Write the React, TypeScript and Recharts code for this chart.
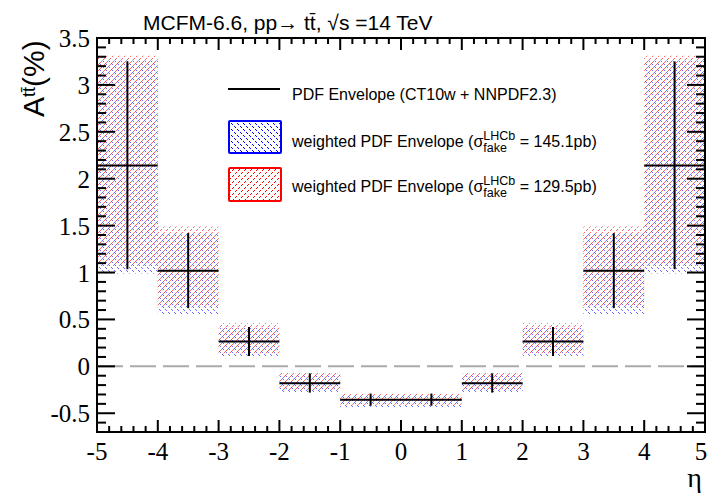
import React from 'react';
import { ComposedChart, XAxis, YAxis, Scatter, ErrorBar, ReferenceArea, ReferenceLine } from 'recharts';

// eta bins
const binLow = [-5, -4, -3, -2, -1, 0, 1, 2, 3, 4];
const binHigh = [-4, -3, -2, -1, 0, 1, 2, 3, 4, 5];
const binCenter = [-4.5, -3.5, -2.5, -1.5, -0.5, 0.5, 1.5, 2.5, 3.5, 4.5];

// PDF envelope (CT10w + NNPDF2.3): central value and envelope
const central = [2.14, 1.02, 0.265, -0.18, -0.355, -0.355, -0.18, 0.265, 1.02, 2.14];
const envelopeLow = [1.035, 0.62, 0.11, -0.28, -0.42, -0.42, -0.28, 0.11, 0.62, 1.035];
const envelopeHigh = [3.25, 1.42, 0.42, -0.075, -0.29, -0.29, -0.075, 0.42, 1.42, 3.25];

// weighted envelope, sigma_fake = 145.1 pb (blue)
const blueLow = [0.99, 0.55, 0.1, -0.285, -0.435, -0.435, -0.285, 0.1, 0.55, 0.99];
const blueHigh = [3.26, 1.42, 0.41, -0.08, -0.31, -0.31, -0.08, 0.41, 1.42, 3.26];

// weighted envelope, sigma_fake = 129.5 pb (red)
const redLow = [1.07, 0.63, 0.14, -0.26, -0.41, -0.41, -0.26, 0.14, 0.63, 1.07];
const redHigh = [3.31, 1.49, 0.46, -0.06, -0.29, -0.29, -0.06, 0.46, 1.49, 3.31];

const xMajorTicks = [-5, -4, -3, -2, -1, 0, 1, 2, 3, 4, 5];
const yMajorTicks = [-0.5, 0, 0.5, 1, 1.5, 2, 2.5, 3, 3.5];

const xTicks = Array.from({ length: 51 }, (_, i) => Math.round((-5 + i * 0.2) * 10) / 10);
const yTicks = Array.from({ length: 43 }, (_, i) => Math.round((-0.7 + i * 0.1) * 10) / 10);

const points = binCenter.map((x, i) => ({
  x,
  y: central[i],
  ex: (binHigh[i] - binLow[i]) / 2,
  ey: [central[i] - envelopeLow[i], envelopeHigh[i] - central[i]],
}));

const W = 709;
const H = 495;
const PL = 97;
const PR = 705;
const PT = 38;
const PB = 432;

const SERIF = 'Liberation Serif, Times New Roman, serif';
const SANS = 'Liberation Sans, Arial, Helvetica, sans-serif';

const isMajor = (v: number, list: number[]) => list.some((m) => Math.abs(m - v) < 1e-6);

const XTick = (props: any) => {
  const { x, payload } = props;
  const v = payload.value;
  const major = isMajor(v, xMajorTicks);
  const len = major ? 12 : 6;
  // keep the last label inside the picture
  const lx = Math.min(x, W - 8);
  return (
    <g>
      <line x1={x} x2={x} y1={PB} y2={PB - len} stroke="#000" strokeWidth={2} />
      <line x1={x} x2={x} y1={PT} y2={PT + len} stroke="#000" strokeWidth={2} />
      {major && (
        <text x={lx} y={460} textAnchor="middle" fontFamily={SERIF} fontSize={25} fill="#000">
          {String(Math.round(v))}
        </text>
      )}
    </g>
  );
};

const YTick = (props: any) => {
  const { y, payload } = props;
  const v = payload.value;
  const major = isMajor(v, yMajorTicks);
  const len = major ? 18 : 9;
  return (
    <g>
      <line x1={PL} x2={PL + len} y1={y} y2={y} stroke="#000" strokeWidth={2} />
      <line x1={PR - len} x2={PR} y1={y} y2={y} stroke="#000" strokeWidth={2} />
      {major && (
        <text x={90} y={y + 9} textAnchor="end" fontFamily={SERIF} fontSize={25} fill="#000">
          {String(Math.round(v * 10) / 10)}
        </text>
      )}
    </g>
  );
};

export default function App() {
  return (
    <div style={{ position: 'absolute', left: 0, top: 0, width: W, height: H, background: '#fff' }}>
      <svg width={0} height={0} style={{ position: 'absolute' }}>
        <defs>
          <pattern id="hatchBlue" x={0} y={0} width={6} height={6} patternUnits="userSpaceOnUse">
            <rect x={0} y={0} width={1} height={1} fill="#0000ff" />
            <rect x={1} y={1} width={1} height={1} fill="#0000ff" />
            <rect x={3} y={3} width={1} height={1} fill="#0000ff" />
            <rect x={4} y={4} width={1} height={1} fill="#0000ff" />
          </pattern>
          <pattern id="hatchRed" x={0} y={0} width={6} height={6} patternUnits="userSpaceOnUse">
            <rect x={1} y={5} width={1} height={1} fill="#ff0000" />
            <rect x={2} y={4} width={1} height={1} fill="#ff0000" />
            <rect x={4} y={2} width={1} height={1} fill="#ff0000" />
            <rect x={5} y={1} width={1} height={1} fill="#ff0000" />
          </pattern>
        </defs>
      </svg>
      <ComposedChart width={W} height={H} margin={{ top: PT, right: W - PR, bottom: 0, left: 0 }}>
        <XAxis
          type="number"
          dataKey="x"
          domain={[-5, 5]}
          ticks={xTicks}
          interval={0}
          height={H - PB}
          tickSize={0}
          tickMargin={0}
          tickLine={false}
          axisLine={false}
          allowDataOverflow
          tick={(p: any) => <XTick {...p} />}
        />
        <YAxis
          type="number"
          dataKey="y"
          domain={[-0.7, 3.5]}
          ticks={yTicks}
          interval={0}
          width={PL}
          tickSize={0}
          tickMargin={0}
          tickLine={false}
          axisLine={false}
          allowDataOverflow
          tick={(p: any) => <YTick {...p} />}
        />
        {binCenter.map((_, i) => (
          <ReferenceArea
            key={'b' + i}
            x1={binLow[i]}
            x2={binHigh[i]}
            y1={blueLow[i]}
            y2={blueHigh[i]}
            fill="url(#hatchBlue)"
            fillOpacity={0.6}
            stroke="none"
            ifOverflow="visible"
          />
        ))}
        {binCenter.map((_, i) => (
          <ReferenceArea
            key={'r' + i}
            x1={binLow[i]}
            x2={binHigh[i]}
            y1={redLow[i]}
            y2={redHigh[i]}
            fill="url(#hatchRed)"
            fillOpacity={0.6}
            stroke="none"
            ifOverflow="visible"
          />
        ))}
        <ReferenceLine y={0} stroke="#aaaaaa" strokeWidth={2} strokeDasharray="26 7" />
        <Scatter data={points} dataKey="y" isAnimationActive={false} shape={() => <g />}>
          <ErrorBar dataKey="ey" direction="y" width={0} stroke="#000" strokeWidth={2} isAnimationActive={false} />
          <ErrorBar dataKey="ex" direction="x" width={0} stroke="#000" strokeWidth={2} isAnimationActive={false} />
        </Scatter>
        <ReferenceArea x1={-5} x2={5} y1={-0.7} y2={3.5} fill="none" stroke="#000" strokeWidth={2} ifOverflow="visible" />
      </ComposedChart>
      <svg width={W} height={H} style={{ position: 'absolute', left: 0, top: 0, pointerEvents: 'none' }}>
        <text x={143} y={30} fontFamily={SANS} fontSize={21} fill="#000">
          MCFM-6.6, pp→ tt̄, √s =14 TeV
        </text>
        <text transform="translate(44,117) rotate(-90)" fontFamily={SANS} fontSize={30} fill="#000">
          A<tspan fontSize={18} dy={-9}>tt̄</tspan>
          <tspan dy={9}>(%)</tspan>
        </text>
        <text x={702} y={487} textAnchor="end" fontFamily={SERIF} fontSize={28} fill="#000">
          η
        </text>
        {/* legend */}
        <line x1={228} x2={280} y1={89} y2={89} stroke="#000" strokeWidth={2} />
        <text x={292} y={100} fontFamily={SANS} fontSize={16} fill="#000">
          PDF Envelope (CT10w + NNPDF2.3)
        </text>
        <rect x={229} y={121} width={52} height={32} fill="url(#hatchBlue)" stroke="#0000ff" strokeWidth={2} rx={1} />
        <text x={292} y={147} fontFamily={SANS} fontSize={16} fill="#000">
          weighted PDF Envelope (σ<tspan fontSize={12.5} dy={5}>fake</tspan>
          <tspan fontSize={12.5} dx={-23.6} dy={-12}>LHCb</tspan>
          <tspan dy={7}> = 145.1pb)</tspan>
        </text>
        <rect x={229} y={168} width={52} height={33} fill="url(#hatchRed)" stroke="#ff0000" strokeWidth={2} rx={1} />
        <text x={292} y={192} fontFamily={SANS} fontSize={16} fill="#000">
          weighted PDF Envelope (σ<tspan fontSize={12.5} dy={5}>fake</tspan>
          <tspan fontSize={12.5} dx={-23.6} dy={-12}>LHCb</tspan>
          <tspan dy={7}> = 129.5pb)</tspan>
        </text>
      </svg>
    </div>
  );
}
